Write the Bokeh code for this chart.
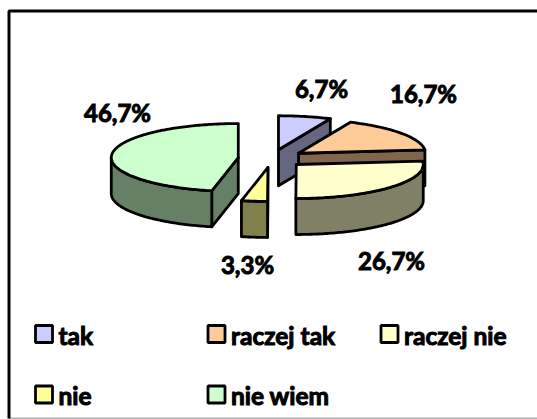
import math
from bokeh.plotting import figure
from bokeh.embed import file_html
from bokeh.resources import INLINE
from bokeh.core.properties import value

categories = ["tak", "raczej tak", "raczej nie", "nie", "nie wiem"]
values = [6.7, 16.7, 26.7, 3.3, 46.7]
labels = ["6,7%", "16,7%", "26,7%", "3,3%", "46,7%"]
top_colors = ["#CCCCFF", "#FFCC99", "#FFFFCC", "#FFFF99", "#CCFFCC"]
side_colors = ["#666680", "#80664D", "#808066", "#80804D", "#668066"]

W, H = 537, 419
CX, CY, RX, RY, DEPTH, EXPLODE = 271, 158, 127, 34, 36, 0.263
LABEL_POS = [(321, 88), (423, 93), (391, 260), (247, 264), (117, 112)]
LEGEND_POS = [(43.5, 333.5), (216, 333.5), (389, 333.5), (43.5, 394), (216, 394)]

p = figure(width=W, height=H, x_range=(0, W), y_range=(H, 0), output_backend="svg",
           toolbar_location=None, min_border=0, outline_line_color=None)
p.axis.visible = False
p.grid.visible = False

# frame: heavy black top and left, thin grey bottom, open on the right
p.line([8.5, W], [418, 418], line_color="#B0B0B0", line_width=2)
p.line([8.5, 8.5, W], [418, 10.5, 10.5], line_color="black", line_width=3)

total = sum(values)


def pt(ax, ay, deg):
    r = math.radians(deg)
    return ax + RX * math.sin(r), ay - RY * math.cos(r)


def arc(ax, ay, a0, a1):
    n = max(2, int(abs(a1 - a0)) + 1)
    return [pt(ax, ay, a0 + (a1 - a0) * i / (n - 1)) for i in range(n)]


def poly(points, color):
    p.patch([q[0] for q in points], [q[1] for q in points], fill_color=color,
            line_color="black", line_width=2.8, line_join="round")


start = 0.0
for v, tc, sc in zip(values, top_colors, side_colors):
    end = start + v / total * 360
    mid = math.radians((start + end) / 2)
    ax = CX + RX * EXPLODE * math.sin(mid)
    ay = CY - RY * EXPLODE * math.cos(mid)
    # flat side faces that look towards the viewer
    face = None
    if start < 90 and end <= 180:
        face = end
    elif 180 < start < 270:
        face = start
    if face is not None:
        q = pt(ax, ay, face)
        poly([(ax, ay), q, (q[0], q[1] + DEPTH), (ax, ay + DEPTH)], sc)
    # rounded outer wall, front half of the ellipse
    f0, f1 = max(start, 90), min(end, 270)
    if f1 > f0:
        rim = arc(ax, ay, f0, f1)
        poly(rim + [(x, y + DEPTH) for x, y in reversed(rim)], sc)
    # top
    poly([(ax, ay)] + arc(ax, ay, start, end), tc)
    start = end

label_font = value("Lato")
p.text([q[0] for q in LABEL_POS], [q[1] for q in LABEL_POS], text=labels,
       text_font=label_font, text_font_style="bold", text_font_size="24px",
       text_align="center", text_baseline="middle", text_color="black",
       text_outline_color="black")

p.rect([q[0] for q in LEGEND_POS], [q[1] for q in LEGEND_POS], width=17, height=17,
       fill_color=top_colors, line_color="black", line_width=2.8)
p.text([q[0] + 14.5 for q in LEGEND_POS], [q[1] + 1 for q in LEGEND_POS], text=categories,
       text_font=label_font, text_font_style="bold", text_font_size="24.5px",
       text_align="left", text_baseline="middle", text_color="black",
       text_outline_color="black")

open("out.html", "w").write(file_html(p, INLINE))
